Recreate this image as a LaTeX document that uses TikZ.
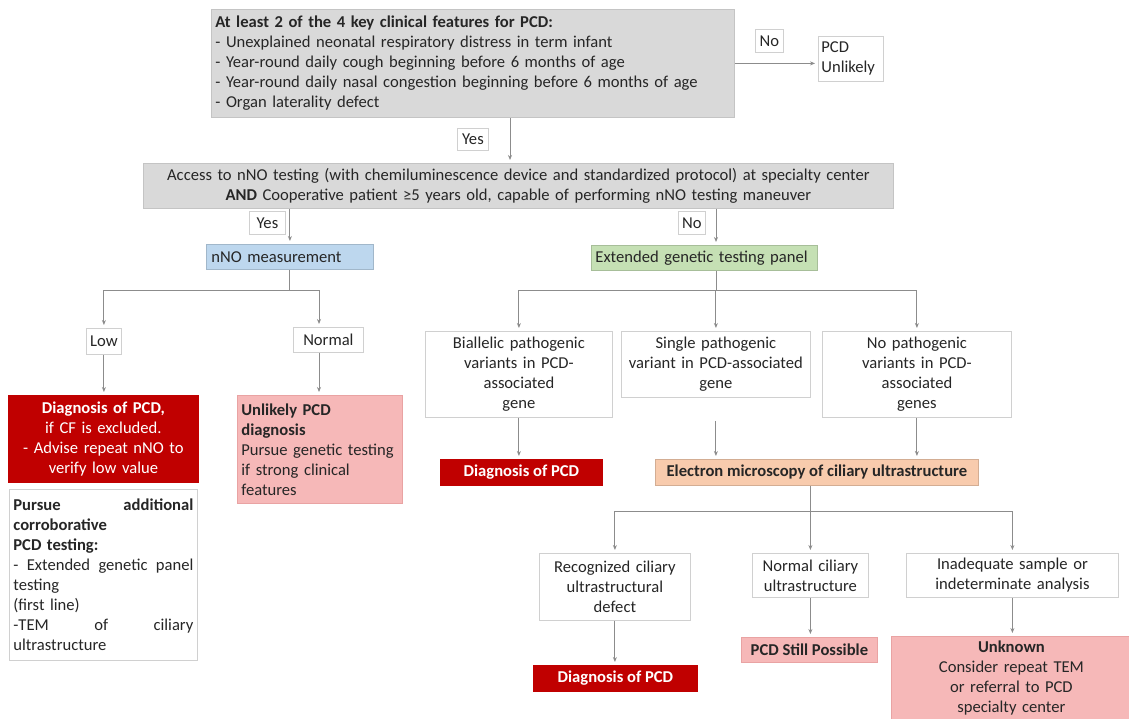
\documentclass[tikz,border=0pt]{standalone}
\usepackage{fontspec}
\setmainfont{Carlito}
\usetikzlibrary{arrows.meta}
\definecolor{txt}{HTML}{262626}
\definecolor{bord}{HTML}{D0D0D0}
\definecolor{grayfill}{HTML}{D9D9D9}
\definecolor{grayb}{HTML}{C4C4C4}
\definecolor{bluefill}{HTML}{BDD7EE}
\definecolor{greenfill}{HTML}{C5E0B4}
\definecolor{darkred}{HTML}{C00000}
\definecolor{pinkfill}{HTML}{F6B8B8}
\definecolor{pinkb}{HTML}{E9A3A3}
\definecolor{peach}{HTML}{F8CBAD}
\definecolor{arrc}{HTML}{8C8C8C}
\tikzset{
  box/.style={draw=bord, line width=0.8pt, fill=white, inner sep=0pt, anchor=north west, text=txt},
  graybox/.style={box, draw=grayb, fill=grayfill},
  bluebox/.style={box, draw=bluefill!85!black, fill=bluefill},
  greenbox/.style={box, draw=greenfill!85!black, fill=greenfill},
  redbox/.style={box, draw=darkred, fill=darkred, text=white},
  pinkbox/.style={box, draw=pinkb, fill=pinkfill},
  peachbox/.style={box, draw=peach!85!black, fill=peach},
  lbl/.style={box},
  ln/.style={draw=arrc, line width=0.9pt},
  arr/.style={ln, -{Stealth[length=5pt,width=4pt]}, shorten >=3pt},
}
\begin{document}
\begin{tikzpicture}[x=1pt,y=-1pt,font=\fontsize{16.6}{20}\selectfont]
\useasboundingbox (0,0) rectangle (1129,718);

% top
\node[graybox, minimum width=523pt, minimum height=108pt, text width=515pt, align=left] (top) at (211,9)
 {\textbf{At least 2 of the 4 key clinical features for PCD:}\\
  - Unexplained neonatal respiratory distress in term infant\\
  - Year-round daily cough beginning before 6 months of age\\
  - Year-round daily nasal congestion beginning before 6 months of age\\
  - Organ laterality defect};
\node[lbl, minimum width=28pt, minimum height=23pt] (no1) at (755,29) {No};
\node[box, minimum width=65pt, minimum height=45pt, text width=59pt, align=left] (unl) at (818,36) {PCD\\Unlikely};
\node[lbl, minimum width=31pt, minimum height=22pt] (yes1) at (457,128) {Yes};

% access
\node[graybox, minimum width=750pt, minimum height=45pt, text width=740pt, align=center] (acc) at (143,163)
 {Access to nNO testing (with chemiluminescence device and standardized protocol) at specialty center\\
  \textbf{AND} Cooperative patient ≥5 years old, capable of performing nNO testing maneuver};
\node[lbl, minimum width=36pt, minimum height=23pt] (yes2) at (249,211) {Yes};
\node[lbl, minimum width=27pt, minimum height=23pt] (no2) at (678,211) {No};

\node[bluebox, minimum width=167pt, minimum height=25pt, text width=157pt, align=left] (nno) at (206,244) {nNO measurement};
\node[greenbox, minimum width=226pt, minimum height=25pt, text width=218pt, align=left] (ext) at (591,245) {Extended genetic testing panel};

% left branch
\node[lbl, minimum width=35pt, minimum height=26pt] (low) at (86,328) {Low};
\node[lbl, minimum width=70pt, minimum height=25pt] (norm) at (293,327) {Normal};
\node[redbox, minimum width=190pt, minimum height=87pt, text width=182pt, align=center] (diag1) at (8,395)
 {\textbf{Diagnosis of PCD,}\\ if CF is excluded.\\ - Advise repeat nNO to\\ verify low value};
\node[pinkbox, minimum width=165pt, minimum height=108pt, text width=157pt, align=left] (unlik) at (237,395)
 {\textbf{Unlikely PCD}\\ \textbf{diagnosis}\\ Pursue genetic testing\\ if strong clinical\\ features};
\node[box, minimum width=188pt, minimum height=171pt, text width=180pt, align=left] (purs) at (9,489)
 {\textbf{Pursue\hfill additional}\\ \textbf{corroborative}\\ \textbf{PCD testing:}\\ -\hfill Extended\hfill genetic\hfill panel\\ testing\\ (first line)\\ -TEM\hfill of\hfill ciliary\\ ultrastructure};

% genetic branch
\node[box, minimum width=187pt, minimum height=86pt, text width=179pt, align=center] (bia) at (425,331)
 {Biallelic pathogenic\\ variants in PCD-\\ associated\\ gene};
\node[box, minimum width=189pt, minimum height=66pt, text width=181pt, align=center] (sing) at (621,331)
 {Single pathogenic\\ variant in PCD-associated\\ gene};
\node[box, minimum width=189pt, minimum height=86pt, text width=181pt, align=center] (nop) at (822,331)
 {No pathogenic\\ variants in PCD-\\ associated\\ genes};
\node[redbox, minimum width=162pt, minimum height=26pt] (diag2) at (440,459) {\textbf{Diagnosis of PCD}};
\node[peachbox, minimum width=323pt, minimum height=26pt] (em) at (655,459) {\textbf{Electron microscopy of ciliary ultrastructure}};

% EM branch
\node[box, minimum width=151pt, minimum height=67pt, text width=143pt, align=center] (rec) at (539,553)
 {Recognized ciliary\\ ultrastructural\\ defect};
\node[box, minimum width=116pt, minimum height=44pt, text width=110pt, align=center] (ncil) at (752,553)
 {Normal ciliary\\ ultrastructure};
\node[box, minimum width=212pt, minimum height=44pt, text width=204pt, align=center] (inad) at (906,553)
 {Inadequate sample or\\ indeterminate analysis};
\node[redbox, minimum width=164pt, minimum height=26pt] (diag3) at (533,665) {\textbf{Diagnosis of PCD}};
\node[pinkbox, minimum width=136pt, minimum height=25pt] (still) at (741,637) {\textbf{PCD Still Possible}};
\node[pinkbox, minimum width=240pt, minimum height=84pt, text width=230pt, align=center] (unk) at (891,636)
 {\textbf{Unknown}\\ Consider repeat TEM\\ or referral to PCD\\ specialty center};

% helper coordinates
\coordinate (c1) at (510,0);
\coordinate (c3) at (716,0);
\coordinate (c4) at (319,0);
\coordinate (c5) at (810,0);
\coordinate (j1) at (0,290);
\coordinate (j2) at (0,290);
\coordinate (j3) at (0,511);

% connectors
\draw[arr] (top.east) -- (top.east -| unl.west);
\draw[arr] (top.south -| c1) -- (acc.north -| c1);
\draw[arr] (acc.south -| nno.north) -- (nno.north);
\draw[arr] (acc.south -| c3) -- (ext.north -| c3);

\draw[ln] (nno.south) -- (nno.south |- j1);
\draw[ln] (low.north |- j1) -- (c4 |- j1);
\draw[arr] (low.north |- j1) -- (low.north);
\draw[arr] (c4 |- j1) -- (norm.north -| c4);
\draw[arr] (low.south) -- (low.south |- diag1.north);
\draw[arr] (norm.south -| c4) -- (unlik.north -| c4);

\draw[ln] (ext.south -| c3) -- (c3 |- j2);
\draw[ln] (bia.north |- j2) -- (nop.north |- j2);
\draw[arr] (bia.north |- j2) -- (bia.north);
\draw[arr] (sing.north |- j2) -- (sing.north);
\draw[arr] (nop.north |- j2) -- (nop.north);
\draw[arr] (bia.south) -- (bia.south |- diag2.north);
\draw[arr] ([yshift=-23pt]sing.south) -- (sing.south |- em.north);
\draw[arr] (nop.south) -- (nop.south |- em.north);

\draw[ln] (em.south -| c5) -- (c5 |- j3);
\draw[ln] (rec.north |- j3) -- (inad.north |- j3);
\draw[arr] (rec.north |- j3) -- (rec.north);
\draw[arr] (ncil.north |- j3) -- (ncil.north);
\draw[arr] (inad.north |- j3) -- (inad.north);
\draw[arr] (rec.south) -- (rec.south |- diag3.north);
\draw[arr] (ncil.south) -- (ncil.south |- still.north);
\draw[arr] (inad.south) -- (inad.south |- unk.north);
\end{tikzpicture}
\end{document}
